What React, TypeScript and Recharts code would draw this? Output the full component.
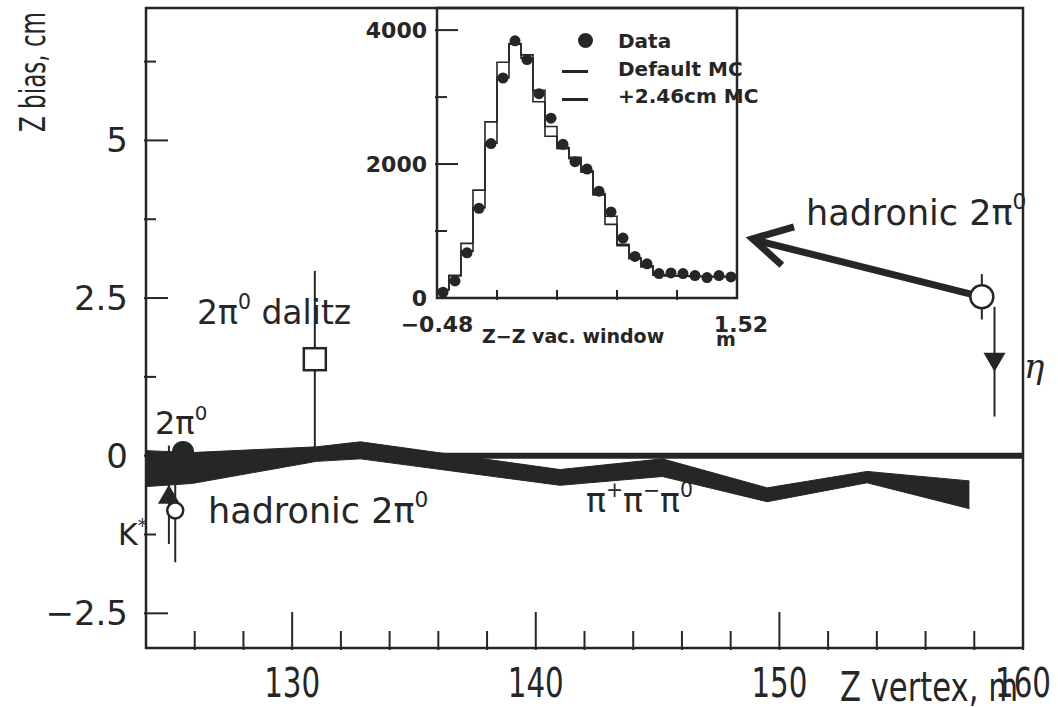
import React from 'react';
import {
  ComposedChart,
  Area,
  Line,
  Scatter,
  XAxis,
  YAxis,
  ReferenceArea,
  ReferenceLine,
  ErrorBar,
} from 'recharts';

const INK = '#262626';
const FONT = "'DejaVu Sans', sans-serif";

// --- main plot: Z bias (cm) vs Z vertex (m) ---
const bandZ = [124.0, 125.9, 131.0, 132.8, 141.0, 145.2, 149.5, 153.6, 157.8];
const bandTop = [0.08, 0.05, 0.14, 0.22, -0.22, -0.05, -0.51, -0.25, -0.4];
const bandBottom = [-0.49, -0.44, -0.09, -0.05, -0.47, -0.33, -0.73, -0.43, -0.84];

const dalitz = [{ z: 130.93, bias: 1.53, err: 1.4 }];
const twoPi0 = [{ z: 125.52, bias: 0.06 }];
const kStar = [{ z: 124.94, bias: -0.62, err: 0.78 }];
const hadronicLow = [{ z: 125.2, bias: -0.87, err: 0.82 }];
const hadronicHigh = [{ z: 158.31, bias: 2.52, err: 0.36 }];
const eta = [{ z: 158.83, bias: 1.49, err: 0.87 }];
const arrowShaft = [{ z: 158.31, bias: 2.52 }, { z: 149.0, bias: 3.42 }];
const arrowHead = [{ z: 150.6, bias: 3.63 }, { z: 148.9, bias: 3.44 }, { z: 150.1, bias: 3.02 }];

const xTicks = [126, 128, 130, 132, 134, 136, 138, 140, 142, 144, 146, 148, 150, 152, 154, 156, 158, 160];
const xLabelled = [130, 140, 150, 160];
const yTicks = [-2.5, -1.25, 0, 1.25, 2.5, 3.75, 5, 6.25];
const yLabelled = [-2.5, 0, 2.5, 5];
const yLabels = ['\u22122.5', '0', '2.5', '5'];

// --- inset: Z - Z vac. window (m) histogram ---
const binEdges = [-0.48, -0.4, -0.32, -0.24, -0.16, -0.08, 0.0, 0.08, 0.16, 0.24, 0.32, 0.4, 0.48, 0.56, 0.64, 0.72, 0.8, 0.88, 0.96, 1.04, 1.12, 1.2, 1.28, 1.36, 1.44, 1.52];
const binCenters = [-0.44, -0.36, -0.28, -0.2, -0.12, -0.04, 0.04, 0.12, 0.2, 0.28, 0.36, 0.44, 0.52, 0.6, 0.68, 0.76, 0.84, 0.92, 1.0, 1.08, 1.16, 1.24, 1.32, 1.4, 1.48];
const dataCounts = [85, 255, 675, 1340, 2305, 3285, 3840, 3560, 3050, 2685, 2295, 2035, 1925, 1595, 1285, 895, 620, 510, 365, 375, 365, 335, 305, 335, 315];
const mcDefault = [125, 340, 815, 1610, 2630, 3520, 3790, 3630, 2930, 2415, 2230, 2100, 1880, 1540, 1100, 780, 585, 465, 340, 330, 330, 320, 320, 320, 320];
const mcShifted = [120, 330, 700, 1350, 2310, 3290, 3800, 3580, 3100, 2560, 2250, 2080, 1900, 1560, 1220, 800, 600, 480, 345, 335, 325, 325, 320, 315, 320];

const insetXTicks = [-0.48, -0.08, 0.32, 0.72, 1.12, 1.52];
const insetXLabels: Record<string, string> = { '-0.48': '\u22120.48', '1.52': '1.52' };
const insetYTicks = [0, 1000, 2000, 3000, 4000];
const insetYLabelled = [0, 2000, 4000];

const bandRows = bandZ.map((z, i) => ({ z, range: [bandBottom[i], bandTop[i]] }));
const histRows = binEdges.map((m, i) => ({
  m,
  mcDefault: mcDefault[Math.min(i, mcDefault.length - 1)],
  mcShift: mcShifted[Math.min(i, mcShifted.length - 1)],
}));
const dataPoints = binCenters.map((m, i) => ({ m, count: dataCounts[i] }));

const near = (a: number, b: number) => Math.abs(a - b) < 1e-6;

const MainXTick = (props: any) => {
  const { x, y, payload } = props;
  const v = payload.value;
  const major = xLabelled.some((t) => near(t, v));
  return (
    <g>
      <line x1={x} x2={x} y1={y} y2={y - (major ? 38 : 19)} stroke={INK} strokeWidth={2} />
      {major && (
        <text
          x={x}
          y={y + 47}
          textAnchor="middle"
          fontSize={40}
          fontFamily={FONT}
          fill={INK}
          textLength={56}
          lengthAdjust="spacingAndGlyphs"
        >
          {v}
        </text>
      )}
    </g>
  );
};

const MainYTick = (props: any) => {
  const { x, y, payload } = props;
  const v = payload.value;
  const idx = yLabelled.findIndex((t) => near(t, v));
  return (
    <g>
      <line x1={x} x2={x + (idx >= 0 ? 24 : 12)} y1={y} y2={y} stroke={INK} strokeWidth={2} />
      {idx >= 0 && (
        <text x={x - 16} y={y + 12} textAnchor="end" fontSize={34} fontFamily={FONT} fill={INK}>
          {yLabels[idx]}
        </text>
      )}
    </g>
  );
};

const InsetXTick = (props: any) => {
  const { x, y, payload } = props;
  const v = payload.value;
  const label = insetXLabels[String(v)];
  return (
    <g>
      {!label && <line x1={x} x2={x} y1={y} y2={y - 10} stroke={INK} strokeWidth={2} />}
      {label && (
        <text x={x + (v > 0 ? 4 : 0)} y={y + 32} textAnchor="middle" fontSize={22} fontWeight="bold" fontFamily={FONT} fill={INK}>
          {label}
        </text>
      )}
    </g>
  );
};

const InsetYTick = (props: any) => {
  const { x, y, payload } = props;
  const v = payload.value;
  const major = insetYLabelled.includes(v);
  return (
    <g>
      {v > 0 && <line x1={x} x2={x + (major ? 23 : 12)} y1={y} y2={y} stroke={INK} strokeWidth={2} />}
      {major && (
        <text x={x - 8} y={y + 8} textAnchor="end" fontSize={22} fontWeight="bold" fontFamily={FONT} fill={INK}>
          {v}
        </text>
      )}
    </g>
  );
};

const openCircle = (r: number) => (p: any) => (
  <circle cx={p.cx} cy={p.cy} r={r} fill="#fff" stroke={INK} strokeWidth={2.5} />
);
const filledCircle = (r: number) => (p: any) => <circle cx={p.cx} cy={p.cy} r={r} fill={INK} />;
const openSquare = (p: any) => (
  <rect x={p.cx - 11} y={p.cy - 11} width={22} height={22} fill="#fff" stroke={INK} strokeWidth={2.5} />
);
const triUp = (p: any) => (
  <path d={`M${p.cx},${p.cy - 10} L${p.cx + 11},${p.cy + 9} L${p.cx - 11},${p.cy + 9} Z`} fill={INK} />
);
const triDown = (p: any) => (
  <path d={`M${p.cx - 11},${p.cy - 9} L${p.cx + 11},${p.cy - 9} L${p.cx},${p.cy + 10} Z`} fill={INK} />
);
const noShape = () => <g />;

const Sup = ({ children }: any) => (
  <span style={{ fontSize: '0.62em', position: 'relative', top: '-0.72em' }}>{children}</span>
);

function Note({ x, y, size, children, style }: any) {
  return (
    <div
      style={{
        position: 'absolute',
        left: x,
        top: y,
        fontSize: size,
        lineHeight: 1,
        transform: 'translateY(-50%)',
        whiteSpace: 'nowrap',
        fontFamily: FONT,
        color: INK,
        ...style,
      }}
    >
      {children}
    </div>
  );
}

export default function App() {
  return (
    <div style={{ position: 'absolute', left: 0, top: 0, width: 1058, height: 707, background: '#fff', overflow: 'hidden' }}>
      <ComposedChart width={1058} height={707} data={bandRows} margin={{ top: 8, right: 35, bottom: 0, left: 0 }}>
        <XAxis
          dataKey="z"
          type="number"
          domain={[124, 160]}
          allowDataOverflow
          ticks={xTicks}
          interval={0}
          tick={MainXTick}
          tickLine={false}
          axisLine={false}
          tickSize={0}
          height={59}
        />
        <YAxis
          dataKey="bias"
          type="number"
          domain={[-3.05, 7.1]}
          allowDataOverflow
          ticks={yTicks}
          interval={0}
          tick={MainYTick}
          tickLine={false}
          axisLine={false}
          tickSize={0}
          width={146}
        />
        <ReferenceArea x1={124} x2={160} y1={-3.05} y2={7.1} fill="none" stroke={INK} strokeWidth={2.5} />
        <ReferenceLine y={0} stroke={INK} strokeWidth={6} />
        <Area dataKey="range" type="linear" fill={INK} fillOpacity={1} stroke={INK} strokeWidth={1} isAnimationActive={false} />
        <Scatter data={dalitz} shape={openSquare} isAnimationActive={false}>
          <ErrorBar dataKey="err" direction="y" width={0} stroke={INK} strokeWidth={2} />
        </Scatter>
        <Scatter data={kStar} shape={triUp} isAnimationActive={false}>
          <ErrorBar dataKey="err" direction="y" width={0} stroke={INK} strokeWidth={2} />
        </Scatter>
        <Scatter data={hadronicLow} shape={openCircle(8)} isAnimationActive={false}>
          <ErrorBar dataKey="err" direction="y" width={0} stroke={INK} strokeWidth={2} />
        </Scatter>
        <Scatter data={twoPi0} shape={filledCircle(11)} isAnimationActive={false} />
        <Scatter data={eta} shape={triDown} isAnimationActive={false}>
          <ErrorBar dataKey="err" direction="y" width={0} stroke={INK} strokeWidth={2} />
        </Scatter>
        <Scatter
          data={arrowShaft}
          shape={noShape}
          line={{ stroke: INK, strokeWidth: 7 }}
          isAnimationActive={false}
        />
        <Scatter
          data={arrowHead}
          shape={noShape}
          line={{ stroke: INK, strokeWidth: 7, strokeLinejoin: 'miter' }}
          isAnimationActive={false}
        />
        <Scatter data={hadronicHigh} shape={openCircle(11.5)} isAnimationActive={false}>
          <ErrorBar dataKey="err" direction="y" width={0} stroke={INK} strokeWidth={2} />
        </Scatter>
      </ComposedChart>

      <div style={{ position: 'absolute', left: 360, top: 0 }}>
        <ComposedChart width={420} height={350} data={histRows} margin={{ top: 8, right: 43, bottom: 0, left: 0 }}>
          <XAxis
            dataKey="m"
            type="number"
            domain={[-0.48, 1.52]}
            allowDataOverflow
            ticks={insetXTicks}
            interval={0}
            tick={InsetXTick}
            tickLine={false}
            axisLine={false}
            tickSize={0}
            height={52}
          />
          <YAxis
            dataKey="count"
            type="number"
            domain={[0, 4330]}
            allowDataOverflow
            ticks={insetYTicks}
            interval={0}
            tick={InsetYTick}
            tickLine={false}
            axisLine={false}
            tickSize={0}
            width={77}
          />
          <ReferenceArea x1={-0.48} x2={1.52} y1={0} y2={4330} fill="none" stroke={INK} strokeWidth={2.5} />
          <Line dataKey="mcDefault" type="stepAfter" stroke={INK} strokeWidth={1.6} dot={false} isAnimationActive={false} />
          <Line dataKey="mcShift" type="stepAfter" stroke={INK} strokeWidth={1.6} dot={false} isAnimationActive={false} />
          <Scatter data={dataPoints} shape={filledCircle(5.5)} isAnimationActive={false} />
        </ComposedChart>
      </div>

      {/* inset legend and axis title */}
      <div style={{ position: 'absolute', left: 578, top: 33, width: 15, height: 15, borderRadius: '50%', background: INK }} />
      <div style={{ position: 'absolute', left: 562, top: 70, width: 26, height: 3, background: INK }} />
      <div style={{ position: 'absolute', left: 562, top: 98, width: 26, height: 3, background: INK }} />
      <Note x={618} y={41} size={20} style={{ fontWeight: 'bold' }}>Data</Note>
      <Note x={618} y={69} size={20} style={{ fontWeight: 'bold' }}>Default MC</Note>
      <Note x={618} y={96} size={20} style={{ fontWeight: 'bold' }}>+2.46cm MC</Note>
      <Note x={482} y={336} size={19} style={{ fontWeight: 'bold' }}>Z{'\u2212'}Z vac. window</Note>
      <Note x={716} y={339} size={19} style={{ fontWeight: 'bold' }}>m</Note>

      {/* main plot annotations */}
      <Note x={197} y={312} size={33}>
        2{'\u03c0'}<Sup>0</Sup> dalitz
      </Note>
      <Note x={155} y={423} size={32}>
        2{'\u03c0'}<Sup>0</Sup>
      </Note>
      <Note x={208} y={511} size={35}>
        hadronic 2{'\u03c0'}<Sup>0</Sup>
      </Note>
      <Note x={806} y={213} size={35}>
        hadronic 2{'\u03c0'}<Sup>0</Sup>
      </Note>
      <Note x={586} y={500} size={33}>
        {'\u03c0'}<Sup>+</Sup>{'\u03c0'}<Sup>{'\u2212'}</Sup>{'\u03c0'}<Sup>0</Sup>
      </Note>
      <Note x={118} y={535} size={30}>
        K<Sup>*</Sup>
      </Note>
      <Note x={1024} y={366} size={34} style={{ fontStyle: 'italic', fontFamily: "'DejaVu Serif', serif" }}>
        {'\u03b7'}
      </Note>

      {/* axis titles */}
      <svg width={1058} height={707} style={{ position: 'absolute', left: 0, top: 0, pointerEvents: 'none' }}>
        <text
          transform="translate(45,132) rotate(-90)"
          fontSize={36}
          fontFamily={FONT}
          fill={INK}
          textLength={120}
          lengthAdjust="spacingAndGlyphs"
        >
          Z bias, cm
        </text>
        <text x={840} y={701} fontSize={40} fontFamily={FONT} fill={INK} textLength={178} lengthAdjust="spacingAndGlyphs">
          Z vertex, m
        </text>
      </svg>
    </div>
  );
}
